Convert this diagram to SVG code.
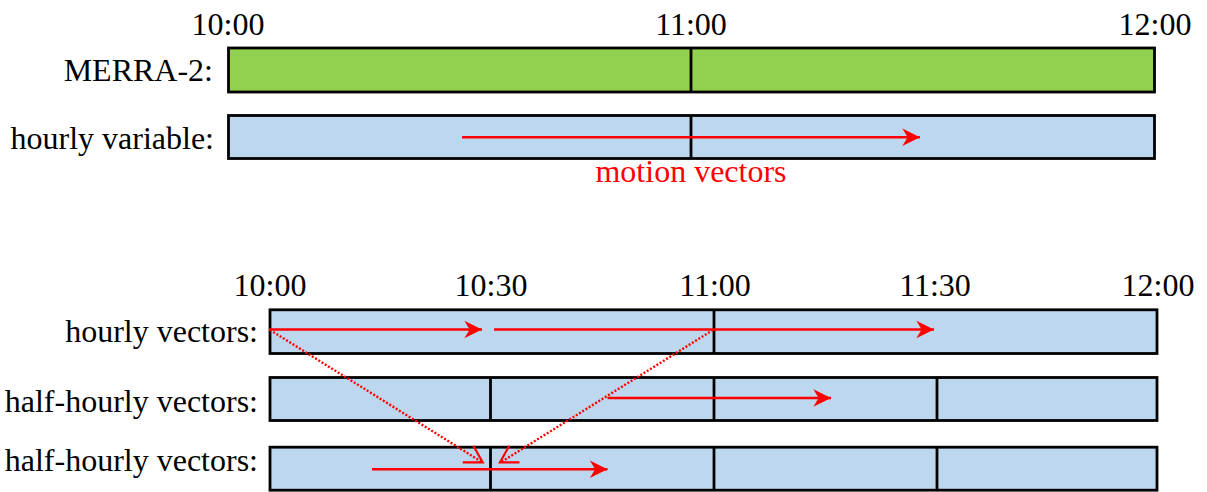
<svg xmlns="http://www.w3.org/2000/svg" width="1207" height="492" viewBox="0 0 1207 492">
  <style>
    text { font-family: "Liberation Serif", "Times New Roman", serif; font-size: 32px; fill: #000; }
    .time { text-anchor: middle; }
    .label { text-anchor: end; }
    .caption { text-anchor: middle; fill: #ff0000; }
    .bar { stroke: #000; stroke-width: 2.8; }
    .green { fill: #92d050; }
    .blue { fill: #bdd7ee; }
    .tick { stroke: #000; stroke-width: 2.8; }
    .vec { stroke: #ff0000; stroke-width: 2.6; fill: none; marker-end: url(#head); }
    .dots { stroke: #ff0000; stroke-width: 2.4; stroke-dasharray: 2 1.8; fill: none; }
    .open { stroke: #ff0000; stroke-width: 2.2; fill: none; stroke-linejoin: miter; }
  </style>
  <defs>
    <!-- notched filled head for the motion vectors -->
    <marker id="head" markerUnits="userSpaceOnUse" markerWidth="20" markerHeight="20" viewBox="-16 -8 17 16" refX="0" refY="0" orient="auto">
      <path d="M0,0 L-15,-7.5 L-10.5,0 L-15,7.5 Z" fill="#ff0000"/>
    </marker>
  </defs>

  <!-- hour marks, upper timeline -->
  <g id="top-times">
    <text class="time" x="228" y="35">10:00</text>
    <text class="time" x="691" y="35">11:00</text>
    <text class="time" x="1155" y="35">12:00</text>
  </g>

  <g id="merra2">
    <text class="label" x="213" y="81">MERRA-2:</text>
    <rect class="bar green" x="228.5" y="48" width="926" height="44"/>
    <line class="tick" x1="691" y1="48" x2="691" y2="92"/>
  </g>

  <g id="hourly-variable">
    <text class="label" x="214" y="149">hourly variable:</text>
    <rect class="bar blue" x="228.5" y="115.5" width="926" height="43"/>
    <line class="tick" x1="691" y1="115.5" x2="691" y2="158.5"/>
  </g>

  <!-- half-hour marks, lower timeline -->
  <g id="bottom-times">
    <text class="time" x="270" y="296">10:00</text>
    <text class="time" x="491" y="296">10:30</text>
    <text class="time" x="715" y="296">11:00</text>
    <text class="time" x="935" y="296">11:30</text>
    <text class="time" x="1158" y="296">12:00</text>
  </g>

  <g id="hourly-vectors">
    <text class="label" x="258" y="342">hourly vectors:</text>
    <rect class="bar blue" x="270" y="309.8" width="887" height="43.7"/>
    <line class="tick" x1="714" y1="309.8" x2="714" y2="353.5"/>
  </g>

  <g id="half-hourly-a">
    <text class="label" x="258" y="412">half-hourly vectors:</text>
    <rect class="bar blue" x="270" y="377.5" width="887" height="43"/>
    <line class="tick" x1="490.5" y1="377.5" x2="490.5" y2="420.5"/>
    <line class="tick" x1="714" y1="377.5" x2="714" y2="420.5"/>
    <line class="tick" x1="937" y1="377.5" x2="937" y2="420.5"/>
  </g>

  <g id="half-hourly-b">
    <text class="label" x="258" y="471">half-hourly vectors:</text>
    <rect class="bar blue" x="270" y="447.2" width="887" height="43"/>
    <line class="tick" x1="490.5" y1="447.2" x2="490.5" y2="490.2"/>
    <line class="tick" x1="714" y1="447.2" x2="714" y2="490.2"/>
    <line class="tick" x1="937" y1="447.2" x2="937" y2="490.2"/>
  </g>

  <g id="connectors">
    <!-- hourly motion vector -->
    <line class="vec" x1="462" y1="137.3" x2="920" y2="137.3"/>
    <text class="caption" x="691" y="182">motion vectors</text>

    <!-- hourly vectors split into halves -->
    <line class="vec" x1="269" y1="329.5" x2="482" y2="329.5"/>
    <line class="vec" x1="494" y1="329.5" x2="934" y2="329.5"/>

    <!-- half-hourly vector -->
    <line class="vec" x1="607.5" y1="398" x2="831" y2="398"/>

    <!-- interpolated half-hourly vector -->
    <line class="vec" x1="372" y1="469.3" x2="607.5" y2="469.3"/>

    <!-- dotted projections onto 10:30 -->
    <line class="dots" x1="270" y1="330" x2="481" y2="461.5"/>
    <polyline class="open" points="473.3,445.7 482.7,462.3 462.7,462.3"/>
    <line class="dots" x1="713" y1="330" x2="502" y2="461.5"/>
    <polyline class="open" points="509.3,445.7 500,462.3 519.5,462.3"/>
  </g>
</svg>
